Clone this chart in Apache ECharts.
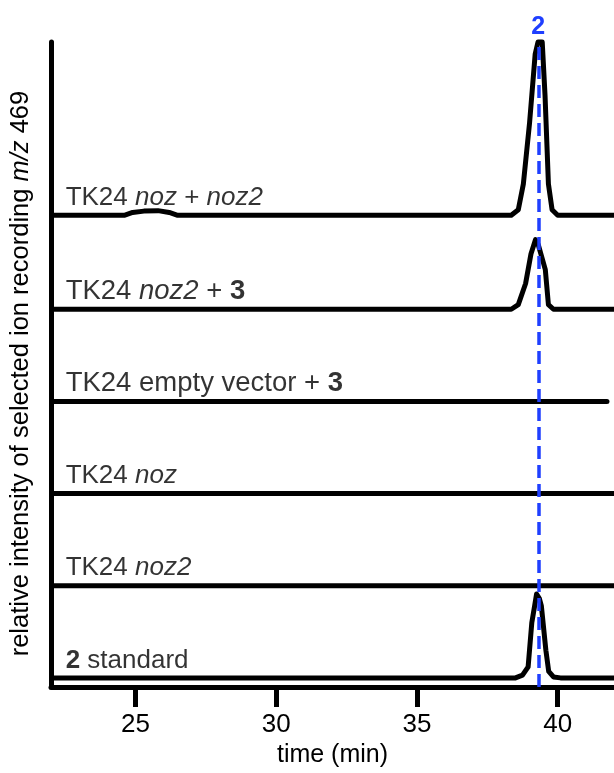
<!DOCTYPE html>
<html>
<head>
<meta charset="utf-8">
<script src="https://cdn.jsdelivr.net/npm/echarts@6/dist/echarts.min.js"></script>
<style>
  html, body { margin: 0; padding: 0; background: #fff; }
  #main { width: 614px; height: 773px; }
</style>
</head>
<body>
<div id="main"></div>
<script>
// x axis (time, min)
const xTicks = [25, 30, 35, 40];
const peakTime = 39.31;   // dashed marker for compound 2

// trace names (rich text) and their vertical offsets
const traceLabels = [
  'TK24 {i|noz} + {i|noz2}',
  'TK24 {i|noz2} + {b|3}',
  'TK24 empty vector + {b|3}',
  'TK24 {i|noz}',
  'TK24 {i|noz2}',
  '{b|2} standard'
];
const offsets = [5.12, 4.1, 3.1, 2.1, 1.1, 0.1];

// [time, relative intensity]
const nozNoz2 = [[22.07, 0], [24.6, 0], [24.9, 0.03], [25.3, 0.045], [25.8, 0.05], [26.2, 0.03], [26.5, 0],
  [38.35, 0], [38.6, 0.06], [38.78, 0.34], [39.0, 1.0], [39.2, 1.75], [39.3, 1.88], [39.45, 1.88],
  [39.55, 1.3], [39.67, 0.34], [39.8, 0.06], [40.0, 0], [42, 0]];
const noz2Plus3 = [[22.07, 0], [38.35, 0], [38.6, 0.05], [38.86, 0.28], [39.05, 0.6], [39.21, 0.755],
  [39.31, 0.7], [39.45, 0.55], [39.56, 0.43], [39.67, 0.05], [39.85, 0], [42, 0]];
const emptyVector = [[22.07, 0], [41.75, 0]];
const nozOnly = [[22.07, 0], [42, 0]];
const noz2Only = [[22.07, 0], [42, 0]];
const standard2 = [[22.07, 0], [38.5, 0], [38.75, 0.03], [38.95, 0.12], [39.08, 0.6], [39.18, 0.78],
  [39.25, 0.91], [39.35, 0.86], [39.42, 0.78], [39.58, 0.3], [39.68, 0.07], [39.85, 0.01], [40.1, 0], [42, 0]];

const traces = [nozNoz2, noz2Plus3, emptyVector, nozOnly, noz2Only, standard2];

const font = '"Liberation Sans", Arial, sans-serif';
function labelStyle(size) {
  return {
    fontSize: size, fontFamily: font, color: '#000',
    rich: {
      i: { fontStyle: 'italic', fontSize: size, fontFamily: font, color: '#000' },
      b: { fontWeight: 'bold', fontSize: size, fontFamily: font, color: '#000' }
    }
  };
}

const series = traces.map((d, k) => ({
  type: 'line',
  data: d.map(p => [p[0], p[1] + offsets[k]]),
  showSymbol: false,
  clip: false,
  lineStyle: { color: '#000', width: 5, cap: 'round', join: 'round' },
  z: 3
}));

// trace labels (the two "+ 3" labels are set a bit larger in the figure)
series.push({
  type: 'scatter',
  symbolSize: 0,
  data: offsets.map((o, k) => ({
    value: [22.52, o + 0.19],
    name: traceLabels[k],
    label: labelStyle(k === 1 || k === 2 ? 27.5 : 26)
  })),
  label: Object.assign({ show: true, position: 'right', distance: 0, formatter: p => p.name }, labelStyle(26)),
  z: 4
});

// dashed marker line
series.push({
  type: 'line',
  data: [],
  z: 5,
  markLine: {
    silent: true,
    symbol: 'none',
    data: [{ xAxis: peakTime }],
    lineStyle: { color: '#1f3fff', width: 3.5, type: [13, 6] },
    label: {
      show: true, position: 'end', formatter: '2', distance: 2,
      color: '#1f3fff', fontWeight: 'bold', fontSize: 25, fontFamily: font
    }
  }
});

const chart = echarts.init(document.getElementById('main'));
chart.setOption({
  animation: false,
  grid: { left: 48, right: 0, top: 42, bottom: 73 },
  xAxis: {
    type: 'value', min: 22, max: 42,
    name: 'time (min)', nameLocation: 'middle', nameGap: 48,
    nameTextStyle: { fontSize: 25, fontFamily: font, color: '#000' },
    axisLine: { lineStyle: { color: '#000', width: 5 } },
    axisTick: { show: true, customValues: xTicks, length: 20, lineStyle: { color: '#000', width: 5 } },
    axisLabel: { customValues: xTicks, margin: 25, fontSize: 26, fontFamily: font, color: '#000' },
    splitLine: { show: false }
  },
  yAxis: {
    type: 'value', min: 0, max: 7,
    name: 'relative intensity of selected ion recording {i|m/z} 469',
    nameLocation: 'middle', nameGap: 17, nameRotate: 90,
    nameTextStyle: { fontSize: 25.5, fontFamily: font, color: '#000', padding: [0, 18, 0, 0], rich: {
      i: { fontStyle: 'italic', fontSize: 25.5, fontFamily: font, color: '#000' } } },
    axisLine: { show: true, onZero: false, lineStyle: { color: '#000', width: 5 } },
    axisTick: { show: false },
    axisLabel: { show: false },
    splitLine: { show: false }
  },
  series: series
});
</script>
</body>
</html>
